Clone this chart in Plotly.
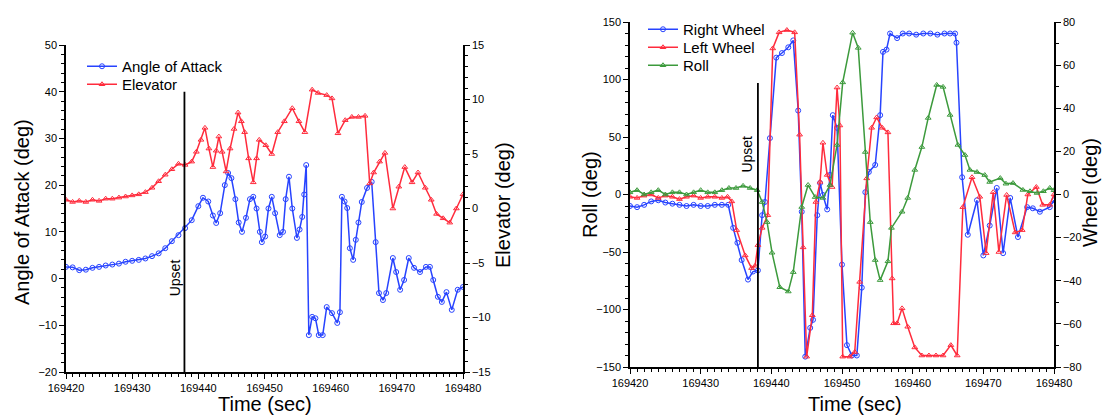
import plotly.graph_objects as go

T0 = 169420

# ---------------- Left chart data ----------------
aoa_t = [0, 1, 2, 3, 4, 5, 6, 7, 8, 9, 10, 11, 12, 13, 14, 15, 16, 17, 18, 19, 20, 20.7,
         21.5, 22.2, 22.7, 23.3, 24, 24.5, 25, 25.6, 26.1, 26.6, 27.2, 27.8, 28.3, 28.8,
         29.3, 29.6, 30.1, 30.6, 31.1, 31.6, 32.3, 32.8, 33.2, 33.7, 34.2, 34.9, 35.3,
         35.7, 36, 36.3, 36.7, 37.2, 37.7, 38.2, 38.8, 39.4, 40.2, 41, 41.4, 41.7, 42.1,
         42.5, 42.9, 43.4, 43.8, 44.2, 44.7, 45.5, 46.2, 46.8, 47.3, 47.9, 48.4, 49.4,
         49.9, 50.5, 51.1, 51.8, 52.6, 53.5, 54.4, 55, 55.5, 56.2, 56.8, 57.5, 58.3, 59.2, 60]
aoa_v = [2.5, 2.4, 1.8, 1.9, 2.3, 2.5, 2.8, 3.0, 3.2, 3.6, 3.8, 4.0, 4.3, 4.8, 5.4, 6.5, 8.0,
         9.3, 10.8, 12.5, 15.5, 17.3, 16.5, 13.5, 11.9, 14, 20, 22.6, 21.5, 17, 12, 10, 13, 17,
         17.5, 15, 10, 7.8, 9, 15, 17.5, 14, 9.3, 10, 17, 21.8, 15, 8.7, 10.5, 13.2, 18, 24.3,
         -12.1, -8.2, -8.5, -12.1, -12.1, -6.1, -7.4, -9.5, -7.2, 17.5, 16.5, 15.1, 6.5, 4.0,
         8.3, 12, 16.4, 19.4, 20.7, 7.8, -3.1, -4.6, -3.1, 4.4, 1.4, -2.4, -0.3, 4.4, 2.3, 1.4,
         2.5, 2.5, -0.3, -3.9, -5, -2.9, -6.7, -2.4, -1.8]

elev_t = [0, 1, 2, 3, 4, 5, 6, 7, 8, 9, 10, 11, 12, 13, 14, 15, 16, 17, 18, 19, 19.7, 20.4,
          21, 21.6, 22.2, 22.7, 23.1, 23.6, 24.2, 24.8, 25.4, 26, 26.5, 27, 27.6, 28.3, 28.8,
          29.2, 30.2, 31.1, 32, 33, 34.2, 35.2, 36.1, 37.2, 38.1, 39.4, 40.2, 41.1, 42.2,
          43.2, 44.2, 45.2, 45.9, 46.5, 47.4, 48.2, 49.4, 50.3, 51.2, 52.3, 53.2, 54.3, 55.2,
          56, 57, 58, 59, 60]
elev_v = [0.8, 0.6, 0.7, 0.6, 0.8, 0.7, 0.9, 0.9, 1.0, 1.1, 1.2, 1.3, 1.5, 1.9, 2.5, 3.1, 3.6,
          4.1, 4.0, 4.3, 5.2, 6.3, 7.4, 5.5, 3.8, 5.3, 6.6, 5.2, 3.4, 5.5, 7.3, 8.8, 8.0, 7.0,
          4.6, 2.4, 4.6, 6.3, 5.8, 5.0, 7.0, 8.0, 9.2, 8.0, 7.0, 10.9, 10.6, 10.4, 10.1, 6.9,
          8.1, 8.4, 8.4, 8.5, 2.3, 3.3, 4.3, 5.1, 0.0, 2.0, 3.8, 2.4, 3.3, 1.9, 0.8, -0.5,
          -0.9, -1.3, 0.0, 1.3]

# ---------------- Right chart data ----------------
rw_t = [0, 1, 2, 3, 4, 5, 6, 7, 8, 9, 10, 11, 12, 13, 13.9, 14.6, 15.2, 15.8, 16.7, 17.4,
        18.1, 18.7, 19.1, 19.8, 20.7, 21.5, 22.4, 23.1, 23.8, 24.3, 24.8, 25.5, 25.9, 26.5,
        26.9, 27.3, 27.9, 28.3, 28.7, 29.3, 30, 30.7, 31.4, 32.1, 32.8, 33.3, 33.8, 34.7,
        35.4, 35.8, 36.3, 36.8, 37.8, 38.6, 39.5, 40.5, 41.5, 42.5, 43.5, 44.5, 45.3, 46,
        46.2, 47, 47.8, 49.1, 50, 50.9, 51.9, 52.8, 53.8, 54.9, 56.2, 57, 58, 59.4, 60]
rw_v = [-10, -11, -9, -6, -5, -7, -8, -9, -10, -9, -10, -10, -9, -9, -9, -29, -42, -57, -74,
        -67, -66, -18, -6.5, 49, 119, 123, 128, 134, 73, -15, -141, -116, -109, -18, 10,
        -0.4, -13, 17, 69, 58, -61, -131, -140, -140, -81, 2, 19.6, 25.7, 69, 124, 126, 140,
        136, 140, 140, 139, 140, 140, 139, 140, 140, 140, 132, 15, -35, -5, -53, -27, 5.7,
        -51, -3, -37, -11, -12, -15, -11, -5]

lw_t = [0, 1, 2, 3, 4, 5, 6, 7, 8, 9, 10, 11, 12, 13, 13.8, 14.4, 15.1, 16.3, 17.2, 17.7,
        18.1, 18.7, 19.5, 20.2, 21.1, 22.2, 23.3, 24, 24.5, 25, 25.8, 26.3, 26.9, 27.3, 27.9,
        28.6, 29.3, 29.7, 30.1, 31.1, 31.8, 32.5, 33.5, 34.2, 34.9, 35.7, 36.5, 37.1, 37.3,
        37.8, 38.5, 39.3, 40.3, 41.3, 42.3, 43.3, 44.3, 45.4, 46.3, 47.1, 48.4, 49.5, 50.4,
        51.4, 52.2, 53.3, 54.5, 55.5, 56.3, 57.5, 58.4, 59.4, 60]
lw_v = [-2, -3, -1, 0, -3, -1, -2, -4, -2, -1, -3, -2, -2, -3, -2, -6, -31, -53, -64, -62,
        -44, -29, -18, 127, 141, 143, 141, 52, -46, -141, -105, -6.5, 11, 45, 17, 6.5, 93,
        60, -141, -141, -137, -76, 14, 58, 67, 58, 54, -73, -112, -112, -99, -115, -133,
        -140, -140, -140, -140, -131, -140, -11, 15, -2, -51, 2, -50, -0.4, -33, -31, 0,
        6.5, -9, -9, 0]

roll_t = [0, 1, 2, 3, 4, 5, 6, 7, 8, 9, 10, 11, 12, 13, 14, 15, 16, 17, 18, 18.7, 19.4,
          20.1, 21.2, 22.4, 23.1, 24.3, 25.2, 26.2, 27.3, 28.3, 29.3, 30.1, 31.5, 32.3,
          33.3, 34, 34.7, 35.4, 36.5, 37, 38.5, 39.3, 40.3, 41.3, 42.2, 43.4, 44.3, 45.3,
          46.4, 47.4, 48.1, 49.1, 50.2, 50.9, 52.4, 53.2, 54.2, 55.6, 56.6, 57.6, 58.5,
          59.4, 60]
roll_v = [1, 2, 0, 1, 2, 0, 1, 1, 0, 1, 2, 1, 1, 2, 3, 3, 4, 3, 2, -3.5, -12.8, -27, -43,
          -45, -36, -5.8, 4.4, -1.2, -1.6, 4.4, 23, 52, 75, 68, 19.7, -12.8, -30.4, -39.7,
          -31, -15.5, -8, -1.6, 11.4, 22, 35.5, 50.8, 49.9, 36.9, 23, 18.3, 11.4, 10.4, 9,
          5.8, 7.6, 5, 5.3, 2.1, 1.5, 0.7, 1.5, 3, 2]

x_tick_step = 10

upset_left_t = 17.9
upset_right_t = 18.1

BLUE = "#2743ff"
RED = "#ff2b3c"
GREEN = "#3c9a3c"
FONT = "Liberation Sans, Arial, sans-serif"

W, H = 1112, 415


def px_x(p):
    return p / W


def px_y(p):
    return 1 - p / H


def abs_t(ts):
    return [T0 + t for t in ts]


fig = go.Figure()

line_kw = dict(width=1.5)


def add_series(t, v, name, color, symbol, xa, ya, leg):
    fig.add_trace(go.Scatter(x=abs_t(t), y=v, name=name, mode="lines+markers",
                             line=dict(color=color, **line_kw),
                             marker=dict(symbol=symbol, size=5, color=color, line=dict(width=1)),
                             xaxis=xa, yaxis=ya, legend=leg, showlegend=True))


add_series(aoa_t, aoa_v, "Angle of Attack", BLUE, "circle-open", "x", "y", "legend")
add_series(elev_t, elev_v, "Elevator", RED, "triangle-up-open", "x", "y2", "legend2")
add_series(rw_t, rw_v, "Right Wheel", BLUE, "circle-open", "x2", "y3", "legend3")
add_series(lw_t, lw_v, "Left Wheel", RED, "triangle-up-open", "x2", "y3", "legend4")
add_series(roll_t, roll_v, "Roll", GREEN, "triangle-up-open", "x2", "y4", "legend5")

tickfont = dict(family=FONT, size=11, color="black")
axis_common = dict(showline=True, linecolor="black", linewidth=1.5, ticks="outside",
                   ticklen=5, tickwidth=1.2, tickcolor="black", showgrid=False,
                   zeroline=False, tickfont=tickfont, automargin=False)


def minor(d):
    return dict(ticks="outside", ticklen=3, tickwidth=1, dtick=d, tickcolor="black",
                showgrid=False)


xa = dict(range=[T0, T0 + 60], tickmode="linear", tick0=T0, dtick=x_tick_step,
          tickformat="d", minor=minor(1), **axis_common)

L_dom_x = [px_x(66), px_x(463)]
L_dom_y = [px_y(372), px_y(45)]
R_dom_x = [px_x(630), px_x(1054)]
R_dom_y = [px_y(367), px_y(22)]

LEG_DX = 40   # legend left edge -> text start
LEG_DY = 17   # legend top edge -> row centre


def leg(text_x, row_y):
    return dict(x=px_x(text_x - LEG_DX), y=px_y(row_y - LEG_DY), xanchor="left",
                yanchor="top", bgcolor="rgba(0,0,0,0)",
                font=dict(family=FONT, size=15, color="black"),
                tracegroupgap=0, itemwidth=30)


fig.update_layout(
    width=W, height=H, autosize=False, showlegend=True,
    margin=dict(l=0, r=0, t=0, b=0, autoexpand=False),
    paper_bgcolor="white", plot_bgcolor="white",
    font=dict(family=FONT, color="black"),
    xaxis=dict(domain=L_dom_x, anchor="y", **xa),
    yaxis=dict(domain=L_dom_y, anchor="x", range=[-20, 50], dtick=10, minor=minor(2),
               **axis_common),
    yaxis2=dict(overlaying="y", side="right", anchor="x", range=[-15, 15], dtick=5,
                minor=minor(1), **axis_common),
    xaxis2=dict(domain=R_dom_x, anchor="y3", **xa),
    yaxis3=dict(domain=R_dom_y, anchor="x2", range=[-150, 150], dtick=50, minor=minor(10),
                **axis_common),
    yaxis4=dict(overlaying="y3", side="right", anchor="x2", range=[-80, 80], dtick=20,
                minor=minor(10), **axis_common),
    legend=leg(122, 67),
    legend2=leg(122, 85),
    legend3=leg(683, 30),
    legend4=leg(683, 48),
    legend5=leg(683, 66),
)

# Upset markers
fig.add_shape(type="line", xref="x", yref="y", x0=T0 + upset_left_t, x1=T0 + upset_left_t,
              y0=-20, y1=40, line=dict(color="black", width=1.8))
fig.add_shape(type="line", xref="x2", yref="y3", x0=T0 + upset_right_t, x1=T0 + upset_right_t,
              y0=-150, y1=97, line=dict(color="black", width=1.8))
fig.add_annotation(x=T0 + 16.5, y=0.1, xref="x", yref="y", text="Upset", textangle=-90,
                   showarrow=False, font=dict(family=FONT, size=14, color="black"))
fig.add_annotation(x=T0 + 16.6, y=35, xref="x2", yref="y3", text="Upset", textangle=-90,
                   showarrow=False, font=dict(family=FONT, size=14, color="black"))

# Axis titles
title_font = dict(family=FONT, size=20, color="black")
titles = [
    ("Angle of Attack (deg)", 22, 212, -90),
    ("Elevator (deg)", 503, 205, -90),
    ("Time (sec)", 265, 404, 0),
    ("Roll (deg)", 590, 195, -90),
    ("Wheel (deg)", 1090, 193, -90),
    ("Time (sec)", 855, 404, 0),
]
for txt, px, py, ang in titles:
    fig.add_annotation(x=px_x(px), y=px_y(py), xref="paper", yref="paper", text=txt,
                       textangle=ang, showarrow=False, font=title_font,
                       xanchor="center", yanchor="middle")

fig.write_html("out.html", config={"displayModeBar": False},
               post_script="document.body.style.margin='0';document.body.style.overflow='hidden';")
